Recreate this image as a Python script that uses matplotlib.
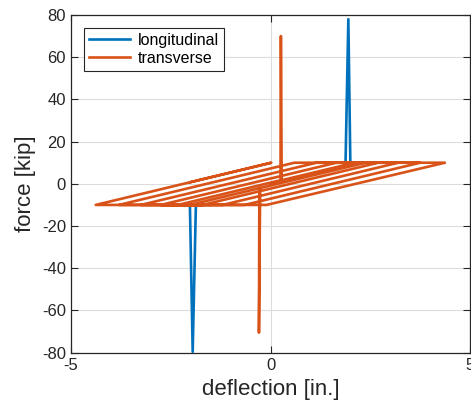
import numpy as np
import matplotlib.pyplot as plt

plt.rcParams['font.family'] = ['Liberation Sans', 'DejaVu Sans']
plt.rcParams['axes.unicode_minus'] = False

# Turning points of the transverse force-deflection path
trans_defl = [0.0, 2.2, 2.38, -0.28, -0.29, -0.26, -2.02, -2.32, 0.25, 0.26, 0.28,
              2.11, 2.7, -1.7, -2.75, 1.65, 3.2, -1.2, -3.25, 1.15, 3.75, -0.65,
              -3.8, 0.6, 4.37, -0.1, -4.38, 0.02, -2.0]
trans_force = [0.0, 10, 10, -2.09, -70.5, -2.0, -10, -10, 1.7, 70, 1.7,
               10, 10, -10, -10, 10, 10, -10, -10, 10, 10, -10,
               -10, 10, 10, -10, -10, 10, 0.8]

# Longitudinal path: mostly hidden under the transverse loops, only the spikes show
long_defl = [1.5, 1.88, 1.95, 2.0, 2.4, np.nan, -2.4, -2.02, -1.95, -1.87, -1.5]
long_force = [10, 10, 78, 10, 10, np.nan, -10, -10, -79.6, -10, -10]

fig = plt.figure(figsize=(4.71, 4.04), dpi=100)
ax = fig.add_axes([0.1507, 0.127, 0.8473, 0.836])

ax.plot(long_defl, long_force, color='#0072BD', linewidth=1.9, label='longitudinal')
ax.plot(trans_defl, trans_force, color='#D95319', linewidth=1.9, label='transverse')

ax.set_xlim(-5, 5)
ax.set_ylim(-80, 80)
ax.set_xticks([-5, 0, 5])
ax.set_yticks(np.arange(-80, 81, 20))
ax.grid(True, color='#dcdcdc', linewidth=0.8)
ax.set_axisbelow(True)
ax.tick_params(direction='in', top=True, right=True, length=5, labelsize=12,
               colors='#262626', width=0.8)
for s in ax.spines.values():
    s.set_color('#262626')
    s.set_linewidth(0.9)

ax.set_xlabel('deflection [in.]', fontsize=16, color='#262626', labelpad=5)
ax.set_ylabel('force [kip]', fontsize=16, color='#262626', labelpad=4)

leg = ax.legend(loc='upper left', fontsize=11.5, fancybox=False, framealpha=1,
                edgecolor='#262626', borderaxespad=0.8, handlelength=2.6,
                handletextpad=0.5, borderpad=0.3, labelspacing=0.2)
leg.get_frame().set_linewidth(0.8)

fig.savefig('out.png', dpi=100)
